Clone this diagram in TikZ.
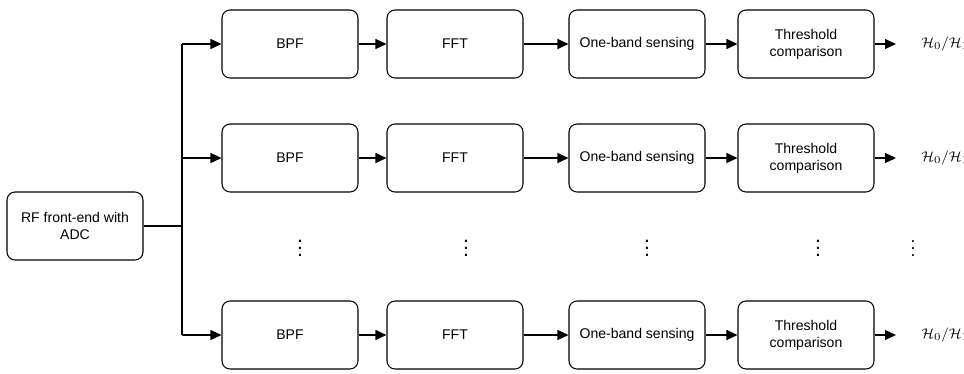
\documentclass[tikz,border=0pt]{standalone}
\usepackage{amsmath}
\usepackage{fontspec}
\setmainfont{Liberation Sans}
\usetikzlibrary{arrows.meta,positioning}

\tikzset{
  blk/.style = {draw, rounded corners = 0.16cm, line width = 0.6pt, minimum width = 2.72cm, minimum height = 1.36cm, align = center, font = \fontsize{8}{9.6}\selectfont, fill = white},
  lnk/.style = {line width = 0.6pt},
  arr/.style = {lnk, -{Triangle[length = 0.22cm, width = 0.2cm]}}
}

\begin{document}
\begin{tikzpicture}[x = 0.02cm, y = -0.02cm]
\useasboundingbox (0,0) rectangle (964,373);

\node[blk] (rf) at (75,226) {RF front-end with\\ADC};
\coordinate (br) at (182,226);

% three branches
\foreach \r/\y in {1/44, 2/158, 3/335} {
  \node[blk] (bpf\r) at (290,\y) {BPF};
  \node[blk] (fft\r) at (455,\y) {FFT};
  \node[blk] (obs\r) at (637,\y) {One-band sensing};
  \node[blk] (thr\r) at (806,\y) {Threshold\\comparison};
  \coordinate (out\r) at (896,\y);
  \node[anchor = west, inner sep = 0pt, font = \fontsize{8.5}{10}\selectfont] (hyp\r) at (921,\y) {$\mathcal{H}_0/\mathcal{H}_1$};
  \draw[arr] (br |- bpf\r) -- (bpf\r);
  \draw[arr] (bpf\r) -- (fft\r);
  \draw[arr] (fft\r) -- (obs\r);
  \draw[arr] (obs\r) -- (thr\r);
  \draw[arr] (thr\r) -- (out\r);
}

\draw[lnk] (rf.east) -- (br);
\draw[lnk] (br |- bpf1) -- (br |- bpf3);

% dots between rows
\begin{scope}[nodes = {inner sep = 0pt, font = \large\boldmath}]
\node (dotsA) at (300,243) {$\vdots$};
\node (dotsB) at (466,243) {$\vdots$};
\node (dotsC) at (647,243) {$\vdots$};
\node (dotsD) at (818,243) {$\vdots$};
\end{scope}
\node[inner sep = 0pt] (dotsE) at (913,243) {$\vdots$};
\end{tikzpicture}
\end{document}
